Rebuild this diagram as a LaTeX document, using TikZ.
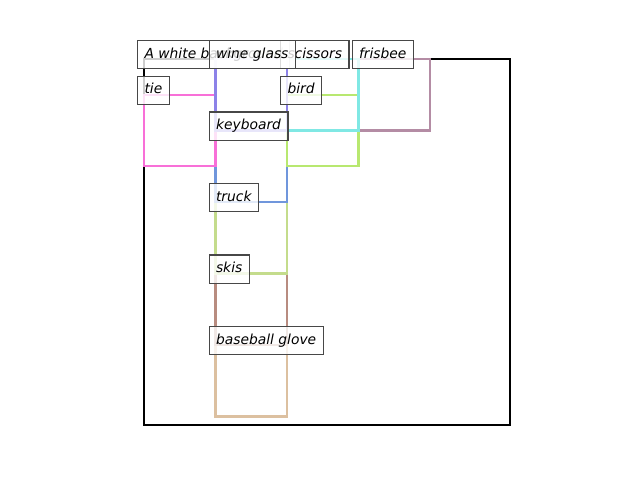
\documentclass[tikz,border=0pt]{standalone}
\usepackage{fontspec}
\setmainfont{DejaVu Sans}
\definecolor{cpink}{RGB}{248,112,216}
\definecolor{cpurple}{RGB}{140,130,232}
\definecolor{cblue}{RGB}{112,150,220}
\definecolor{clgreen}{RGB}{196,220,140}
\definecolor{cbrown}{RGB}{184,140,128}
\definecolor{ctan}{RGB}{220,192,160}
\definecolor{cgreen}{RGB}{184,232,112}
\definecolor{ccyan}{RGB}{128,232,228}
\definecolor{cmauve}{RGB}{180,140,164}
\tikzset{
  bbx/.style={line width=1.6pt, line join=miter},
  lbl/.style={anchor=north west, draw=black!72, line width=0.75pt, fill=white, fill opacity=0.8, text opacity=1,
    inner xsep=0.07in, inner ysep=0pt, minimum height=0.28in, text height=0.76em, text depth=0.24em,
    font=\fontsize{10}{12}\selectfont\itshape}
}
\begin{document}
\begin{tikzpicture}[x=0.01in,y=-0.01in]
\useasboundingbox (0,0) rectangle (640,480);
% image frame
\draw[bbx, black, line width=1.7pt] (144,59) rectangle (510,425);
% bounding boxes (drawing order matters)
\draw[bbx, ctan]    (215.5,345)   rectangle (287,416.5);
\draw[bbx, cbrown]  (215.5,273.5) rectangle (287,345);
\draw[bbx, clgreen] (215.5,202)   rectangle (287,273.5);
\draw[bbx, cblue]   (215.5,130.5) rectangle (287,202);
\draw[bbx, cgreen]  (287,94.75)   rectangle (358.5,166.25);
\draw[bbx, cpink]   (144,94.75)   rectangle (215.5,166.25);
\draw[bbx, cmauve]  (358.5,59)    rectangle (430,130.5);
\draw[bbx, ccyan]   (287,59)      rectangle (358.5,130.5);
\draw[bbx, cpurple] (215.5,59)    rectangle (287,130.5);
% labels
\node[lbl] (cap) at (137,40) {A white background};
\node[lbl] (tie) at (137,75.75) {tie};
\node[lbl] (bird) at (280,75.75) {bird};
\node[lbl] (keyb) at (208.5,111.5) {keyboard};
\node[lbl] (truck) at (208.5,183) {truck};
\node[lbl] (skis) at (208.5,254.5) {skis};
\node[lbl] (glove) at (208.5,326) {baseball glove};
\node[lbl] (fris) at (351.5,40) {frisbee};
\node[lbl] (sciss) at (280,40) {scissors};
\node[lbl] (wine) at (208.5,40) {wine glass};
\end{tikzpicture}
\end{document}
